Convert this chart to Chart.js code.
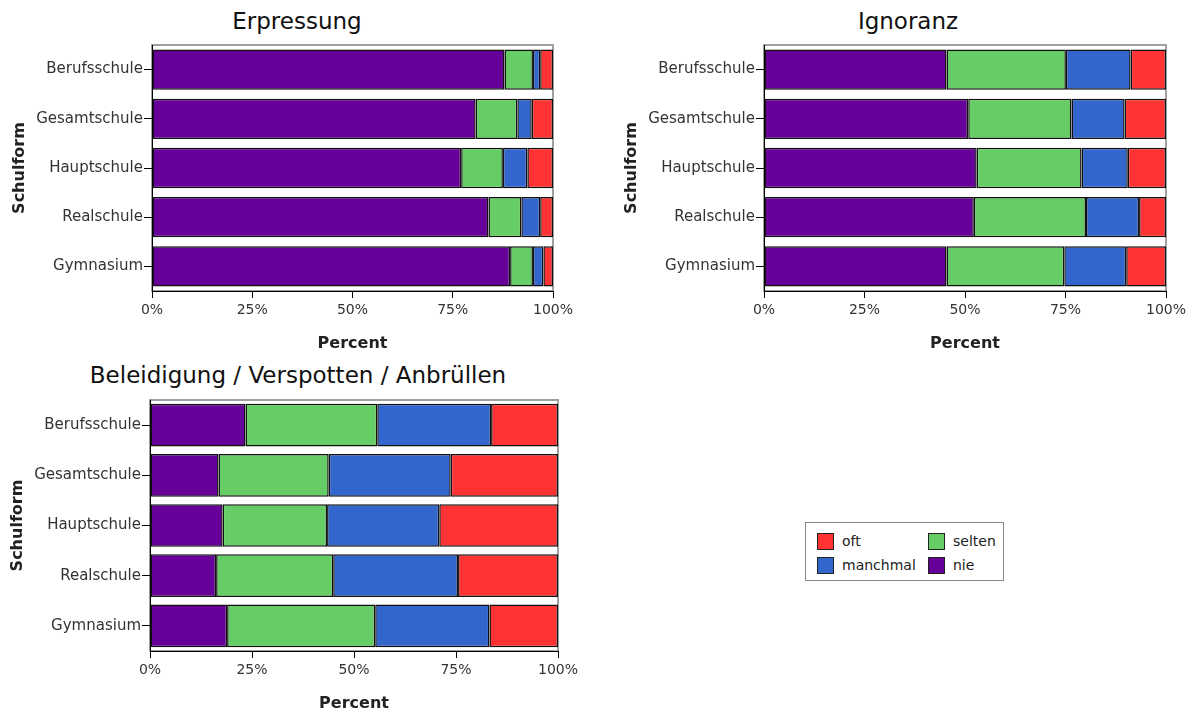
<!DOCTYPE html>
<html>
<head>
<meta charset="utf-8">
<script src="https://cdn.jsdelivr.net/npm/chart.js@4/dist/chart.umd.min.js"></script>
<style>
  body { margin: 0; background: #fff; overflow: hidden; font-family: 'DejaVu Sans', sans-serif; }
  #page { position: relative; width: 1201px; height: 715px; }
  canvas { position: absolute; }
  .title { position: absolute; width: 600px; text-align: center; font-size: 23px; line-height: 23px; color: #111; }
  #legend { position: absolute; left: 805px; top: 522px; width: 199px; height: 59px; border: 1px solid #888; box-sizing: border-box; }
  .item { position: absolute; font-size: 14px; line-height: 17px; color: #222; }
  .item span { display: inline-block; width: 15px; height: 15px; border: 1px solid #222; vertical-align: top; margin-right: 8px; }
</style>
</head>
<body>
<div id="page">
  <div class="title" style="left:-3px;top:10px">Erpressung</div>
  <div class="title" style="left:608px;top:10px">Ignoranz</div>
  <div class="title" style="left:-2px;top:364px">Beleidigung / Verspotten / Anbrüllen</div>
  <canvas id="erpressung" width="600" height="360" style="left:0;top:0"></canvas>
  <canvas id="ignoranz" width="589" height="360" style="left:612px;top:0"></canvas>
  <canvas id="beleidigung" width="600" height="355" style="left:0;top:360px"></canvas>
  <div id="legend"></div>
</div>
<script>
const schulformen = ['Berufsschule', 'Gesamtschule', 'Hauptschule', 'Realschule', 'Gymnasium'];
const xTicks = [0, 25, 50, 75, 100];

// Erpressung (percent per Schulform)
const erpNie      = [87.9, 80.7, 77.1, 83.9, 89.3];
const erpSelten   = [7.1, 10.4, 10.4, 8.2, 5.7];
const erpManchmal = [1.8, 3.6, 6.1, 4.7, 2.6];
const erpOft      = [3.2, 5.3, 6.4, 3.2, 2.4];

// Ignoranz
const ignNie      = [45.4, 50.8, 52.9, 52.2, 45.4];
const ignSelten   = [29.7, 25.7, 26.1, 27.9, 29.3];
const ignManchmal = [16.1, 13.2, 11.5, 13.2, 15.4];
const ignOft      = [8.8, 10.3, 9.5, 6.7, 9.9];

// Beleidigung / Verspotten / Anbrüllen
const belNie      = [23.4, 16.8, 17.8, 16.2, 18.9];
const belSelten   = [32.3, 27.0, 25.6, 28.7, 36.3];
const belManchmal = [27.9, 29.9, 27.5, 30.6, 28.0];
const belOft      = [16.4, 26.3, 29.1, 24.5, 16.8];

const colors = { nie: '#660099', selten: '#66cc66', manchmal: '#3366cc', oft: '#ff3333' };
const legendOrder = ['oft', 'selten', 'manchmal', 'nie'];

// gray frame around the plot area
const framePlugin = {
  id: 'frame',
  beforeDraw(chart) {
    const {ctx, chartArea: a} = chart;
    ctx.save();
    ctx.strokeStyle = '#a0a0a0';
    ctx.lineWidth = 2;
    ctx.strokeRect(a.left, a.top, a.right - a.left, a.bottom - a.top);
    ctx.restore();
  }
};

const makePanel = (id, series, box) => {
  const ds = (label, data) => ({
    label, data,
    backgroundColor: colors[label],
    borderColor: '#111',
    borderWidth: 1.5,
    borderSkipped: false,
    barPercentage: box.bar,
    categoryPercentage: 1
  });
  return new Chart(document.getElementById(id), {
    type: 'bar',
    data: {
      labels: schulformen,
      datasets: [
        ds('nie', series[0]), ds('selten', series[1]),
        ds('manchmal', series[2]), ds('oft', series[3])
      ]
    },
    options: {
      indexAxis: 'y',
      responsive: false,
      animation: false,
      devicePixelRatio: 1,
      layout: { padding: { top: box.top, right: box.right, left: 0, bottom: 0 } },
      plugins: { legend: { display: false }, tooltip: { enabled: false } },
      scales: {
        x: {
          stacked: true, min: 0, max: 100,
          afterBuildTicks: (s) => { s.ticks = xTicks.map(v => ({ value: v })); },
          afterFit: (s) => { s.height = box.xh; },
          ticks: { callback: (v) => v + '%', padding: 4, maxRotation: 0,
                   font: { family: 'DejaVu Sans', size: 14 }, color: '#333' },
          grid: { drawOnChartArea: false, tickLength: 7, color: '#000' },
          border: { color: '#000', width: 1 },
          title: { display: true, text: 'Percent', color: '#222',
                   font: { family: 'DejaVu Sans', size: 16, weight: 'bold' },
                   padding: { bottom: box.pb, top: 0 } }
        },
        y: {
          stacked: true,
          afterFit: (s) => { s.width = box.yw; },
          ticks: { padding: 1, font: { family: 'DejaVu Sans', size: 15 }, color: '#333' },
          grid: { drawOnChartArea: false, offset: false, tickLength: 8, color: '#000' },
          border: { color: '#000', width: 1 },
          title: { display: true, text: 'Schulform', color: '#222',
                   font: { family: 'DejaVu Sans', size: 16, weight: 'bold' },
                   padding: { top: box.pt, bottom: 0 } }
        }
      }
    },
    plugins: [framePlugin]
  });
};

makePanel('erpressung', [erpNie, erpSelten, erpManchmal, erpOft],
  { top: 45, right: 47, xh: 69, yw: 152, pb: 7, pt: 10, bar: 0.82 });
makePanel('ignoranz', [ignNie, ignSelten, ignManchmal, ignOft],
  { top: 45, right: 35, xh: 69, yw: 152, pb: 7, pt: 10, bar: 0.82 });
makePanel('beleidigung', [belNie, belSelten, belManchmal, belOft],
  { top: 40, right: 42, xh: 64, yw: 150, pb: 2, pt: 8, bar: 0.85 });

// legend, 2 x 2 like the original
const legend = document.getElementById('legend');
legendOrder.forEach((name, i) => {
  const el = document.createElement('div');
  el.className = 'item';
  el.style.left = (i % 2 === 0 ? 11 : 122) + 'px';
  el.style.top = (i < 2 ? 10 : 34) + 'px';
  el.innerHTML = `<span style="background:${colors[name]}"></span>${name}`;
  legend.appendChild(el);
});
</script>
</body>
</html>
